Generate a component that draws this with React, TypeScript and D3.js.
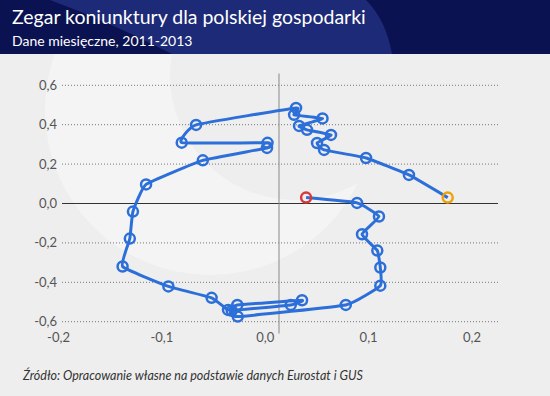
import React, { useRef, useEffect } from "react";
import * as d3 from "d3";

// monthly readings, 2011-2013 (x: change, y: level)
const xVals = [
  0.0395, 0.0888, 0.11, 0.0936, 0.1084, 0.1113, 0.1113, 0.0779, -0.0266, -0.0324,
  0.0247, 0.0356, -0.027, -0.036, -0.0519, -0.0937, -0.138, -0.131, -0.128, -0.1153,
  -0.0604, 0.0017, 0.0022, -0.0808, -0.0669, 0.0298, 0.0279, 0.0554, 0.0327, 0.0404,
  0.0636, 0.0501, 0.0569, 0.0975, 0.139, 0.1765,
];
const yVals = [
  0.03, 0.003, -0.066, -0.156, -0.239, -0.325, -0.417, -0.515, -0.574, -0.545,
  -0.515, -0.491, -0.515, -0.54, -0.479, -0.421, -0.32, -0.178, -0.041, 0.097,
  0.219, 0.282, 0.308, 0.309, 0.399, 0.485, 0.45, 0.432, 0.394, 0.374,
  0.348, 0.307, 0.272, 0.231, 0.145, 0.03,
];
const xTickVals = [-0.2, -0.1, 0, 0.1, 0.2];
const yTickVals = [0.6, 0.4, 0.2, 0, -0.2, -0.4, -0.6];
const verticalAxisAt = 0.0133;

const title = "Zegar koniunktury dla polskiej gospodarki";
const subtitle = "Dane miesięczne, 2011-2013";
const source = "Źródło: Opracowanie własne na podstawie danych Eurostat i GUS";

const fmt = (v: number) => v.toFixed(1).replace(".", ",");

const App = () => {
  const svgRef = useRef<SVGSVGElement>(null);

  useEffect(() => {
    document.body.style.margin = "0";
    const width = 550;
    const height = 396;
    const font = "Lato, 'DejaVu Sans', sans-serif";

    d3.select(svgRef.current).selectAll("*").remove();
    const svg = d3.select(svgRef.current)
      .attr("width", width)
      .attr("height", height)
      .style("display", "block");

    // background + faint logo watermark
    svg.append("rect").attr("width", width).attr("height", height).attr("fill", "#eeeeee");
    const defs = svg.append("defs");
    const mask = defs.append("mask").attr("id", "crescent");
    mask.append("rect").attr("width", width).attr("height", height).attr("fill", "black");
    mask.append("circle").attr("cx", 210).attr("cy", 110).attr("r", 165).attr("fill", "white");
    mask.append("circle").attr("cx", 295).attr("cy", 75).attr("r", 125).attr("fill", "black");
    svg.append("rect").attr("width", width).attr("height", height)
      .attr("fill", "#f4f4f4").attr("mask", "url(#crescent)");

    // header band
    svg.append("rect").attr("width", width).attr("height", 54).attr("fill", "#0b1252");
    svg.append("path")
      .attr("d", "M50,0 Q110,22 172,54 L392,54 Q386,20 366,0 Z")
      .attr("fill", "#1d2a77");
    svg.append("text").attr("x", 12).attr("y", 24)
      .attr("font-family", font).attr("font-size", 19.5).attr("fill", "#fff")
      .text(title);
    svg.append("text").attr("x", 12).attr("y", 46)
      .attr("font-family", font).attr("font-size", 14).attr("fill", "#fff")
      .text(subtitle);

    const x = d3.scaleLinear().domain([-0.2, 0.2]).range([58.5, 472]);
    const y = d3.scaleLinear().domain([-0.6, 0.6]).range([321.7, 85.3]);
    const gridLeft = 62;
    const gridRight = 498;

    // horizontal grid
    svg.append("g").selectAll("line")
      .data(yTickVals.filter(d => d !== 0))
      .enter().append("line")
      .attr("x1", gridLeft).attr("x2", gridRight)
      .attr("y1", d => y(d)).attr("y2", d => y(d))
      .attr("stroke", "#777").attr("stroke-width", 1)
      .attr("stroke-dasharray", "1,2");

    svg.append("line")
      .attr("x1", gridLeft).attr("x2", gridRight)
      .attr("y1", y(0)).attr("y2", y(0))
      .attr("stroke", "#333").attr("stroke-width", 1.2);

    svg.append("line")
      .attr("x1", x(verticalAxisAt)).attr("x2", x(verticalAxisAt))
      .attr("y1", y(0.66)).attr("y2", y(-0.66))
      .attr("stroke", "#888").attr("stroke-width", 1);

    // tick labels
    svg.append("g").selectAll("text")
      .data(yTickVals)
      .enter().append("text")
      .attr("x", 57).attr("y", d => y(d))
      .attr("dy", "0.35em")
      .attr("text-anchor", "end")
      .attr("font-family", font).attr("font-size", 13).attr("fill", "#555")
      .text(d => fmt(d));

    svg.append("g").selectAll("text")
      .data(xTickVals)
      .enter().append("text")
      .attr("x", d => x(d)).attr("y", 342)
      .attr("text-anchor", "middle")
      .attr("font-family", font).attr("font-size", 13).attr("fill", "#555")
      .text(d => fmt(d));

    // clock path
    const pts: [number, number][] = xVals.map((v, i) => [v, yVals[i]]);
    const line = d3.line<[number, number]>()
      .x(d => x(d[0]))
      .y(d => y(d[1]))
      .curve(d3.curveCardinal.tension(0.65));

    svg.append("path")
      .datum(pts)
      .attr("d", line)
      .attr("fill", "none")
      .attr("stroke", "#2d6fd8")
      .attr("stroke-width", 3)
      .attr("stroke-linejoin", "round");

    svg.append("g").selectAll("circle")
      .data(pts)
      .enter().append("circle")
      .attr("cx", d => x(d[0]))
      .attr("cy", d => y(d[1]))
      .attr("r", 5)
      .attr("fill", "none")
      .attr("stroke-width", 2.5)
      .attr("stroke", (d, i) => i === 0 ? "#d8383a" : i === pts.length - 1 ? "#f0a10a" : "#2d6fd8");

    svg.append("text").attr("x", 23).attr("y", 380)
      .attr("font-family", font).attr("font-size", 12.5)
      .attr("font-style", "italic").attr("fill", "#333")
      .text(source);
  }, []);

  return (
    <div>
      <svg ref={svgRef}></svg>
    </div>
  );
};

export default App;
